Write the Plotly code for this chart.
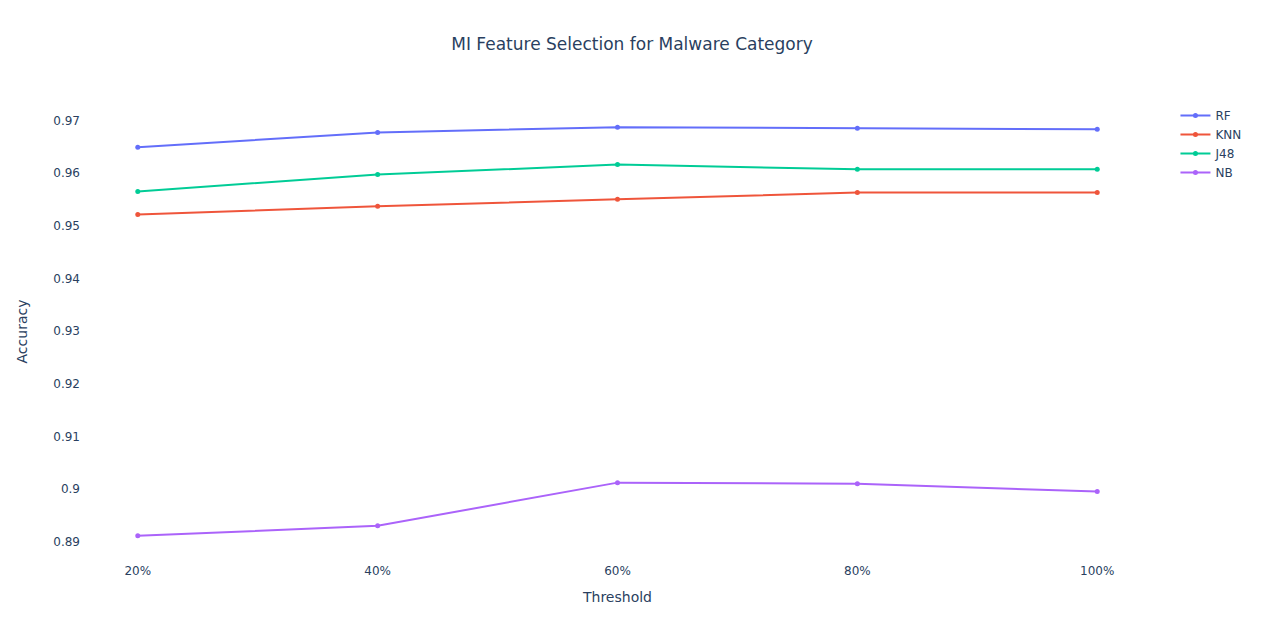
import plotly.graph_objects as go

thresholds = ["20%", "40%", "60%", "80%", "100%"]

rf = [0.9649, 0.9677, 0.9687, 0.9685, 0.9683]
knn = [0.9521, 0.9537, 0.9550, 0.9563, 0.9563]
j48 = [0.9565, 0.9597, 0.9616, 0.9607, 0.9607]
nb = [0.8911, 0.8930, 0.9012, 0.9010, 0.8995]

SERIES = [
    ("RF", rf, "#636EFA"),
    ("KNN", knn, "#EF553B"),
    ("J48", j48, "#00CC96"),
    ("NB", nb, "#AB63FA"),
]

fig = go.Figure()
for name, values, color in SERIES:
    fig.add_trace(
        go.Scatter(
            x=thresholds, y=values, name=name, mode="lines+markers",
            line=dict(color=color, width=2),
            marker=dict(color=color, size=5),
        )
    )

fig.update_layout(
    template="plotly_white",
    font=dict(family="DejaVu Sans, Verdana, sans-serif"),
    title=dict(
        text="MI Feature Selection for Malware Category",
        x=0.4937, xanchor="center", y=0.944, yanchor="middle",
    ),
    xaxis_title="Threshold",
    yaxis_title="Accuracy",
    width=1264,
    height=642,
    margin=dict(l=73, r=118, t=93, b=88),
    plot_bgcolor="white",
    paper_bgcolor="white",
    xaxis=dict(showgrid=False, zeroline=False),
    yaxis=dict(showgrid=False, zeroline=False, dtick=0.01, title_standoff=22),
)
fig.write_html("out.html")
